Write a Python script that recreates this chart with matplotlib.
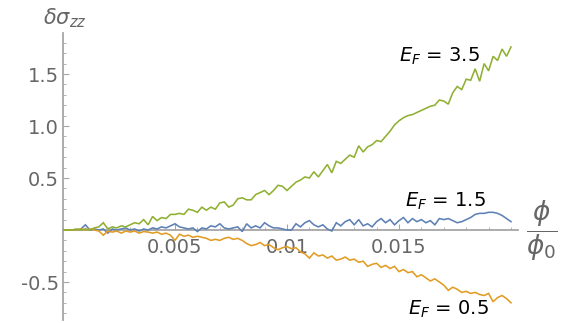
import matplotlib
matplotlib.use("Agg")
import matplotlib.pyplot as plt
from matplotlib.ticker import MultipleLocator, FixedLocator

phi = [0.0000, 0.0002, 0.0004, 0.0006, 0.0008, 0.0010, 0.0012, 0.0014, 0.0016, 0.0018,
       0.0020, 0.0022, 0.0024, 0.0026, 0.0028, 0.0030, 0.0032, 0.0034, 0.0036, 0.0038,
       0.0040, 0.0042, 0.0044, 0.0046, 0.0048, 0.0050, 0.0052, 0.0054, 0.0056, 0.0058,
       0.0060, 0.0062, 0.0064, 0.0066, 0.0068, 0.0070, 0.0072, 0.0074, 0.0076, 0.0078,
       0.0080, 0.0082, 0.0084, 0.0086, 0.0088, 0.0090, 0.0092, 0.0094, 0.0096, 0.0098,
       0.0100, 0.0102, 0.0104, 0.0106, 0.0108, 0.0110, 0.0112, 0.0114, 0.0116, 0.0118,
       0.0120, 0.0122, 0.0124, 0.0126, 0.0128, 0.0130, 0.0132, 0.0134, 0.0136, 0.0138,
       0.0140, 0.0142, 0.0144, 0.0146, 0.0148, 0.0150, 0.0152, 0.0154, 0.0156, 0.0158,
       0.0160, 0.0162, 0.0164, 0.0166, 0.0168, 0.0170, 0.0172, 0.0174, 0.0176, 0.0178,
       0.0180, 0.0182, 0.0184, 0.0186, 0.0188, 0.0190, 0.0192, 0.0194, 0.0196, 0.0198,
       0.0200]

ef_15 = [0.00, 0.00, 0.00, 0.00, 0.01, 0.05, 0.00, 0.01, 0.00, 0.01,
         -0.03, 0.01, 0.00, 0.01, 0.02, 0.00, 0.01, -0.01, 0.01, 0.00,
         0.02, 0.01, 0.03, 0.02, 0.04, 0.06, 0.03, 0.02, 0.01, 0.02,
         -0.015, 0.02, 0.01, 0.04, 0.03, 0.06, 0.02, 0.01, 0.02, 0.03,
         -0.015, 0.06, 0.02, 0.04, 0.02, 0.07, 0.04, 0.02, 0.02, 0.01,
         0.00, 0.00, 0.06, 0.03, 0.07, 0.09, 0.05, 0.03, 0.05, 0.01,
         -0.01, 0.07, 0.04, 0.08, 0.10, 0.05, 0.10, 0.04, 0.06, 0.03,
         0.08, 0.11, 0.07, 0.10, 0.05, 0.09, 0.12, 0.07, 0.11, 0.08,
         0.10, 0.07, 0.09, 0.05, 0.11, 0.10, 0.11, 0.09, 0.07, 0.08,
         0.10, 0.12, 0.15, 0.16, 0.16, 0.17, 0.17, 0.16, 0.14, 0.11,
         0.08]

ef_05 = [0.00, 0.00, 0.00, 0.00, 0.01, 0.00, 0.01, 0.00, -0.01, -0.05,
         -0.01, -0.02, -0.01, -0.03, -0.01, -0.02, -0.01, -0.03, -0.015, -0.02,
         -0.03, -0.02, -0.04, -0.03, -0.05, -0.10, -0.04, -0.06, -0.05, -0.07,
         -0.06, -0.07, -0.08, -0.10, -0.09, -0.10, -0.08, -0.07, -0.09, -0.08,
         -0.10, -0.13, -0.15, -0.14, -0.12, -0.15, -0.14, -0.17, -0.19, -0.17,
         -0.16, -0.18, -0.17, -0.21, -0.23, -0.27, -0.22, -0.25, -0.24, -0.27,
         -0.25, -0.29, -0.28, -0.26, -0.29, -0.28, -0.31, -0.30, -0.35, -0.33,
         -0.32, -0.36, -0.34, -0.37, -0.35, -0.40, -0.38, -0.41, -0.40, -0.45,
         -0.43, -0.46, -0.49, -0.47, -0.50, -0.53, -0.58, -0.55, -0.57, -0.60,
         -0.59, -0.61, -0.60, -0.62, -0.63, -0.61, -0.69, -0.65, -0.63, -0.66,
         -0.70]

ef_35 = [0.00, 0.00, 0.00, 0.01, 0.00, 0.01, 0.00, 0.02, 0.03, 0.07,
         0.01, 0.03, 0.02, 0.04, 0.03, 0.05, 0.07, 0.06, 0.10, 0.05,
         0.13, 0.09, 0.12, 0.11, 0.15, 0.15, 0.16, 0.15, 0.20, 0.19,
         0.17, 0.22, 0.19, 0.22, 0.20, 0.26, 0.27, 0.22, 0.24, 0.30,
         0.31, 0.29, 0.29, 0.34, 0.36, 0.38, 0.34, 0.38, 0.43, 0.42,
         0.38, 0.42, 0.46, 0.48, 0.51, 0.50, 0.56, 0.51, 0.57, 0.63,
         0.55, 0.66, 0.64, 0.68, 0.72, 0.70, 0.81, 0.75, 0.80, 0.82,
         0.86, 0.85, 0.90, 0.95, 1.01, 1.05, 1.08, 1.10, 1.11, 1.13,
         1.15, 1.17, 1.19, 1.20, 1.25, 1.24, 1.21, 1.32, 1.38, 1.35,
         1.45, 1.44, 1.55, 1.43, 1.60, 1.53, 1.67, 1.63, 1.74, 1.67,
         1.76]

x_ticks = [0.005, 0.01, 0.015]
x_tick_labels = ["0.005", "0.01", "0.015"]
y_ticks = [-0.5, 0.5, 1.0, 1.5]
y_tick_labels = ["-0.5", "0.5", "1.0", "1.5"]
labels = ["$E_F$ = 1.5", "$E_F$ = 0.5", "$E_F$ = 3.5"]

W, H = 567, 323
fig = plt.figure(figsize=(W / 100, H / 100), dpi=100)
# axes box in pixels: x 63..518, y 33..320 (from top)
ax = fig.add_axes([63 / W, (H - 320) / H, (518 - 63) / W, (320 - 33) / H])

xpp = 22400.0   # pixels per unit x
ypp = 104.0     # pixels per unit y
ax.set_xlim(0, (518 - 63) / xpp)
ax.set_ylim((230 - 320) / ypp, (230 - 33) / ypp)

colors = ["#5E81B5", "#E19C24", "#8FB032"]
for ys, c in zip([ef_15, ef_05, ef_35], colors):
    ax.plot(phi, ys, color=c, lw=1.15, zorder=3, solid_joinstyle="miter")

axis_col = "#a6a6a6"
for s in ["top", "right"]:
    ax.spines[s].set_visible(False)
ax.spines["left"].set_position(("data", 0))
ax.spines["bottom"].set_position(("data", 0))
for s in ["left", "bottom"]:
    ax.spines[s].set_color(axis_col)
    ax.spines[s].set_linewidth(1.3)
    ax.spines[s].set_zorder(2)

ax.xaxis.set_major_locator(FixedLocator(x_ticks))
ax.set_xticklabels(x_tick_labels)
ax.xaxis.set_minor_locator(MultipleLocator(0.001))
ax.yaxis.set_major_locator(FixedLocator(y_ticks))
ax.set_yticklabels(y_tick_labels)
ax.yaxis.set_minor_locator(MultipleLocator(0.1))

ax.tick_params(which="major", direction="in", length=4.5, width=0.8, color=axis_col,
               labelcolor="#666666", labelsize=14, pad=3)
ax.tick_params(which="minor", direction="in", length=2.5, width=0.6, color=axis_col)
ax.tick_params(axis="x", which="major", pad=6)
ax.patch.set_alpha(0)

def dx(px):
    return (px - 63) / xpp

def dy(py):
    return (230 - py) / ypp

ax.text(dx(445), dy(207), labels[0], fontsize=14, color="black", ha="center", va="baseline")
ax.text(dx(448), dy(315), labels[1], fontsize=14, color="black", ha="center", va="baseline")
ax.text(dx(439), dy(62), labels[2], fontsize=14, color="black", ha="center", va="baseline")

fig.text(43 / W, 1 - 18 / H, r"$\delta\sigma_{zz}$", fontsize=15, color="#666666",
         ha="left", va="center")
fig.text(542 / W, 1 - 231 / H, r"$\dfrac{\phi}{\phi_0}$", fontsize=19, color="#666666",
         ha="center", va="center")

fig.savefig("out.png", dpi=100)
